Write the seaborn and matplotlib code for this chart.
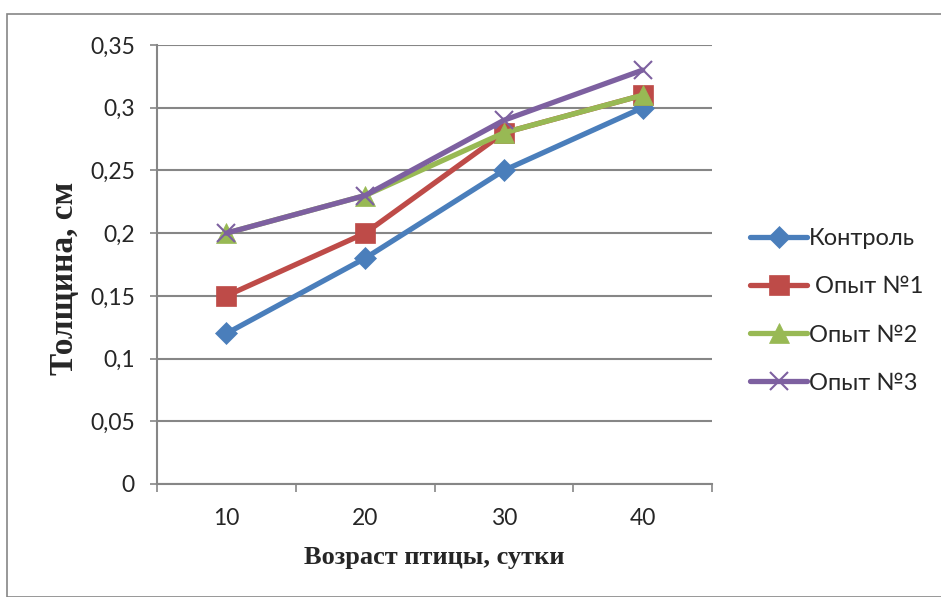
import matplotlib
matplotlib.use("Agg")
import matplotlib.pyplot as plt
import numpy as np
import pandas as pd
import seaborn as sns
from matplotlib.patches import Rectangle

ages = ["10", "20", "30", "40"]
series_names = ["Контроль", " Опыт №1", "Опыт №2", "Опыт №3"]
control = [0.12, 0.18, 0.25, 0.30]
trial1 = [0.15, 0.20, 0.28, 0.31]
trial2 = [0.20, 0.23, 0.28, 0.31]
trial3 = [0.20, 0.23, 0.29, 0.33]
y_ticks = [0, 0.05, 0.1, 0.15, 0.2, 0.25, 0.3, 0.35]

colors = ["#4A7EBB", "#BE4B48", "#98B954", "#7D60A0"]
markers = ["D", "s", "^", "x"]
marker_sizes = [11, 14, 14, 13]

sns.set_theme(style="white")
plt.rcParams["font.family"] = ["Lato", "DejaVu Sans"]

fig = plt.figure(figsize=(9.41, 5.97), dpi=100)
ax = fig.add_axes([157 / 941, 1 - 484 / 597, (712 - 157) / 941, (484 - 45) / 597])

pos = np.arange(len(ages))
for name, vals, c, m, ms in zip(series_names, [control, trial1, trial2, trial3],
                                colors, markers, marker_sizes):
    df = pd.DataFrame({"x": pos, "y": vals})
    sns.lineplot(data=df, x="x", y="y", ax=ax, color=c, linewidth=3.8,
                 marker=m, markersize=ms, markeredgecolor=c,
                 markeredgewidth=1.5 if m == "x" else 0.5, label=name,
                 solid_capstyle="round")

ax.set_xlim(-0.5, 3.5)
ax.set_ylim(0, 0.35)
ax.set_yticks(y_ticks)
ax.set_yticklabels([("%g" % v).replace(".", ",") for v in y_ticks], fontsize=16.5)
ax.set_xticks(pos)
ax.set_xticklabels(ages, fontsize=16.5)
ax.set_xticks(np.arange(-0.5, 4, 1), minor=True)
ax.tick_params(axis="x", which="major", length=0, pad=17)
ax.tick_params(axis="x", which="minor", length=6, width=1.2, color="#868686", direction="out")
ax.tick_params(axis="y", length=5, width=1.2, color="#868686", direction="out", pad=11)
ax.xaxis.set_ticks_position("bottom")
ax.yaxis.set_ticks_position("left")
ax.grid(axis="y", color="#868686", linewidth=1.5)
ax.set_axisbelow(True)
for s in ["top", "right"]:
    ax.spines[s].set_visible(False)
for s in ["left", "bottom"]:
    ax.spines[s].set_color("#868686")
    ax.spines[s].set_linewidth(1.5)

ax.set_xlabel("Возраст птицы, сутки", fontsize=19, fontweight="bold",
              family="Liberation Serif")
ax.xaxis.set_label_coords(0.5, (484 - 546) / 439)
ax.set_ylabel("Толщина, см", fontsize=24, fontweight="bold",
              family="Liberation Serif")
ax.yaxis.set_label_coords((80 - 157) / 555, (484 - 278) / 439)

leg = ax.legend(loc="center left", bbox_to_anchor=(729 / 941, 1 - 311 / 597),
                bbox_transform=fig.transFigure, frameon=False, fontsize=17,
                handlelength=2.4, handletextpad=0.1, labelspacing=1.15)

fig.patches.append(Rectangle((7 / 941, 0), 1, 1 - 14 / 597, transform=fig.transFigure,
                             fill=False, edgecolor="#868686", linewidth=1.2))

fig.savefig("out.png", dpi=100)
